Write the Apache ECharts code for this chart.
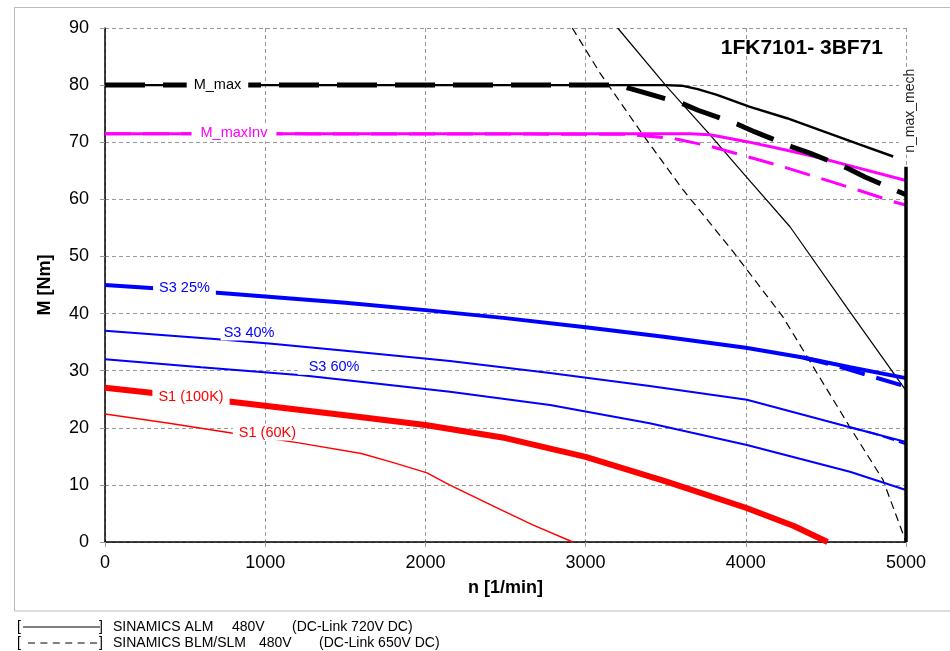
<!DOCTYPE html>
<html><head><meta charset="utf-8">
<script src="https://cdn.jsdelivr.net/npm/echarts@6/dist/echarts.min.js"></script>
<style>html,body{margin:0;padding:0;background:#fff}#c{width:950px;height:651px}</style>
</head><body><div id="c"></div>
<script>
// ---- axis ticks ----
const xTicks = [0, 1000, 2000, 3000, 4000, 5000];
const yTicks = [0, 10, 20, 30, 40, 50, 60, 70, 80, 90];

// ---- curves: [n (1/min), M (Nm)] ----
const mMaxALM = [[0,80],[3500,80],[3600,79.9],[3700,79.3],[3820,78.3],[4026,76.2],[4257,74.2],[4463,72.1],[4700,69.7],[4920,67.5]];
const mMaxBLM = [[0,80],[3200,80],[3351,78.8],[3601,76.8],[3702,75.6],[3945,73.2],[4057,71.8],[4288,69.2],[4400,68.1],[4632,65.5],[4744,63.9],[4975,61.1],[5000,60.8]];
const mMaxInvALM = [[0,71.5],[3650,71.5],[3777,71.3],[4007,70.1],[4257,68.6],[4442,67.4],[4700,65.5],[5000,63.3]];
const mMaxInvBLM = [[0,71.5],[3250,71.4],[3540,70.7],[3777,69.3],[4007,67.5],[4234,65.7],[4463,63.7],[4713,61.5],[4944,59.4],[5000,59.0]];
const vLimALM = [[3200,90],[3508,79.7],[3777,71.3],[3983,64.6],[4276,55.2],[4650,40.3],[5000,26.5]];
const vLimBLM = [[2917,90],[3090,82.1],[3358,71.3],[3610,61.6],[3922,50.8],[4232,39.4],[4650,20.1],[4856,10.9],[5000,0]];
const nMaxMech = [[5000,0],[5000,65.7]];
const s3_25 = [[0,45.0],[500,44.1],[1000,43.0],[1500,41.9],[2000,40.6],[2500,39.2],[3000,37.6],[3500,35.9],[4000,34.0],[4357,32.3],[4650,30.6],[5000,28.7]];
const s3_25BLM = [[4357,32.3],[4546,31.0],[4713,29.6],[4944,27.7],[5000,27.2]];
const s3_40 = [[0,37.0],[705,35.5],[1042,34.7],[1500,33.5],[2153,31.7],[2778,29.6],[3400,27.3],[4007,24.9],[4650,20.1],[5000,17.5]];
const s3_40BLM = [[4650,20.1],[4800,19.0],[4950,17.6],[5000,17.1]];
const s3_60 = [[0,32.0],[600,30.6],[1230,29.2],[1385,28.7],[2153,26.3],[2778,24.0],[3400,20.8],[4007,17.0],[4650,12.3],[5000,9.1]];
const s1_100 = [[0,27.0],[300,26.1],[800,24.5],[1500,22.2],[2000,20.5],[2500,18.2],[3000,14.9],[3500,10.6],[4000,6.0],[4300,2.8],[4510,0]];
const s1_60 = [[0,22.4],[400,20.8],[790,19.1],[1200,17.4],[1600,15.5],[1800,13.9],[2010,12.1],[2150,10.0],[2460,5.8],[2670,3.0],[2920,0]];

// ---- curve label texts and anchors [n, M] ----
const labelTexts = ['M_max', 'M_maxInv', 'S3 25%', 'S3 40%', 'S3 60%', 'S1 (100K)', 'S1 (60K)', 'n_max_mech'];
const labelAnchors = [[702,80],[805,71.6],[496,44.5],[899,36.6],[1430,30.6],[537,25.4],[1014,19.1],[5000,75.5]];

const titleText = '1FK7101- 3BF71';
const legendRows = [
  ['SINAMICS ALM', '480V', '(DC-Link 720V DC)'],
  ['SINAMICS BLM/SLM', '480V', '(DC-Link 650V DC)']
];

// ---- styles ----
const FONT = '"Liberation Sans", Arial, Helvetica, sans-serif';
const BLUE = '#0000ff', RED = '#ff0000', MAG = '#ff00ff', BLK = '#000000';
const labelStyles = [
  {color: BLK, padding: [1, 7]},
  {color: MAG, padding: [1, 9]},
  {color: BLUE, padding: [1, 6]},
  {color: BLUE, padding: [0, 3]},
  {color: BLUE, padding: [0, 11]},
  {color: RED, padding: [1, 6]},
  {color: RED, padding: [0, 6]},
  {color: '#222', padding: [4, 2], rotate: 90, offset: [0, 4], fontSize: 14}
];

function line(name, data, color, width, type) {
  return {
    name, type: 'line', data, showSymbol: false, symbol: 'none', smooth: false,
    lineStyle: {color, width, type: type || 'solid', opacity: 1},
    z: 2, silent: true, animation: false
  };
}

const series = [
  line('vLimBLM', vLimBLM, BLK, 1.2, [8, 5]),
  line('vLimALM', vLimALM, BLK, 1.2, 'solid'),
  line('s1_60', s1_60, RED, 1.5, 'solid'),
  line('s1_100', s1_100, RED, 6, 'solid'),
  line('s3_60', s3_60, BLUE, 2, 'solid'),
  line('s3_40BLM', s3_40BLM, BLUE, 2, [12, 5]),
  line('s3_40', s3_40, BLUE, 2, 'solid'),
  line('s3_25BLM', s3_25BLM, BLUE, 4, [26, 12]),
  line('s3_25', s3_25, BLUE, 4, 'solid'),
  line('mMaxInvBLM', mMaxInvBLM, MAG, 3, [26, 12]),
  line('mMaxInvALM', mMaxInvALM, MAG, 3, 'solid'),
  line('mMaxBLM', mMaxBLM, BLK, 5, [40, 18]),
  line('mMaxALM', mMaxALM, BLK, 2.4, 'solid'),
  line('nMaxMech', nMaxMech, BLK, 3.5, 'solid'),
  {
    type: 'scatter', symbolSize: 0, z: 20, silent: true,
    itemStyle: {opacity: 1},
    emphasis: {disabled: true},
    data: labelAnchors.map((p, i) => ({
      value: p, name: labelTexts[i],
      itemStyle: {opacity: 1},
      label: Object.assign({
        show: true, position: 'inside', formatter: '{b}', opacity: 1,
        fontFamily: FONT, fontSize: 14.5, backgroundColor: '#fff'
      }, labelStyles[i])
    }))
  }
];

const axisCommon = {
  type: 'value',
  axisLine: {show: true, onZero: false, lineStyle: {color: '#000', width: 1.5}},
  axisTick: {show: true, length: 5, lineStyle: {color: '#999'}},
  splitLine: {show: true, lineStyle: {color: '#999', type: [4, 3], width: 1}},
  nameLocation: 'middle',
  nameTextStyle: {fontFamily: FONT, fontSize: 18, fontWeight: 'bold', color: '#000'}
};

const LF = '14px ' + FONT;
function txt(x, y, s) {
  return {type: 'text', silent: true, x, y, style: {text: s, font: LF, fill: '#000', verticalAlign: 'middle'}};
}

const graphic = [
  {type: 'rect', silent: true, z: 0, shape: {x: 14.5, y: 7.5, width: 940, height: 603.5},
   style: {fill: 'none', stroke: '#bbbbbb', lineWidth: 1}},
  {type: 'text', silent: true, z: 30, right: 950 - 883, top: 38,
   style: {text: titleText, font: 'bold 21px ' + FONT, fill: '#000'}},
  txt(17, 627, '['),
  {type: 'line', silent: true, shape: {x1: 23, y1: 627, x2: 100, y2: 627}, style: {stroke: '#000', lineWidth: 1}},
  txt(99, 627, ']'),
  txt(113, 627, legendRows[0][0]),
  txt(232, 627, legendRows[0][1]),
  txt(292, 627, legendRows[0][2]),
  txt(17, 643, '['),
  {type: 'line', silent: true, shape: {x1: 28, y1: 643, x2: 97, y2: 643}, style: {stroke: '#000', lineWidth: 1, lineDash: [7, 5.4]}},
  txt(99, 643, ']'),
  txt(113, 643, legendRows[1][0]),
  txt(259, 643, legendRows[1][1]),
  txt(319, 643, legendRows[1][2])
];

const chart = echarts.init(document.getElementById('c'), null, {renderer: 'canvas'});
chart.setOption({
  animation: false,
  backgroundColor: '#fff',
  grid: {left: 105, right: 44, top: 28, bottom: 109, containLabel: false},
  xAxis: Object.assign({}, axisCommon, {
    min: xTicks[0], max: xTicks[xTicks.length - 1], interval: xTicks[1] - xTicks[0],
    name: 'n [1/min]', nameGap: 37,
    axisLabel: {margin: 12, fontFamily: FONT, fontSize: 18, color: '#000', formatter: v => String(v)}
  }),
  yAxis: Object.assign({}, axisCommon, {
    min: yTicks[0], max: yTicks[yTicks.length - 1], interval: yTicks[1] - yTicks[0],
    name: 'M [Nm]', nameGap: 51,
    axisLabel: {margin: 16, fontFamily: FONT, fontSize: 18, color: '#000', formatter: v => String(v)}
  }),
  series,
  graphic
});
</script></body></html>
